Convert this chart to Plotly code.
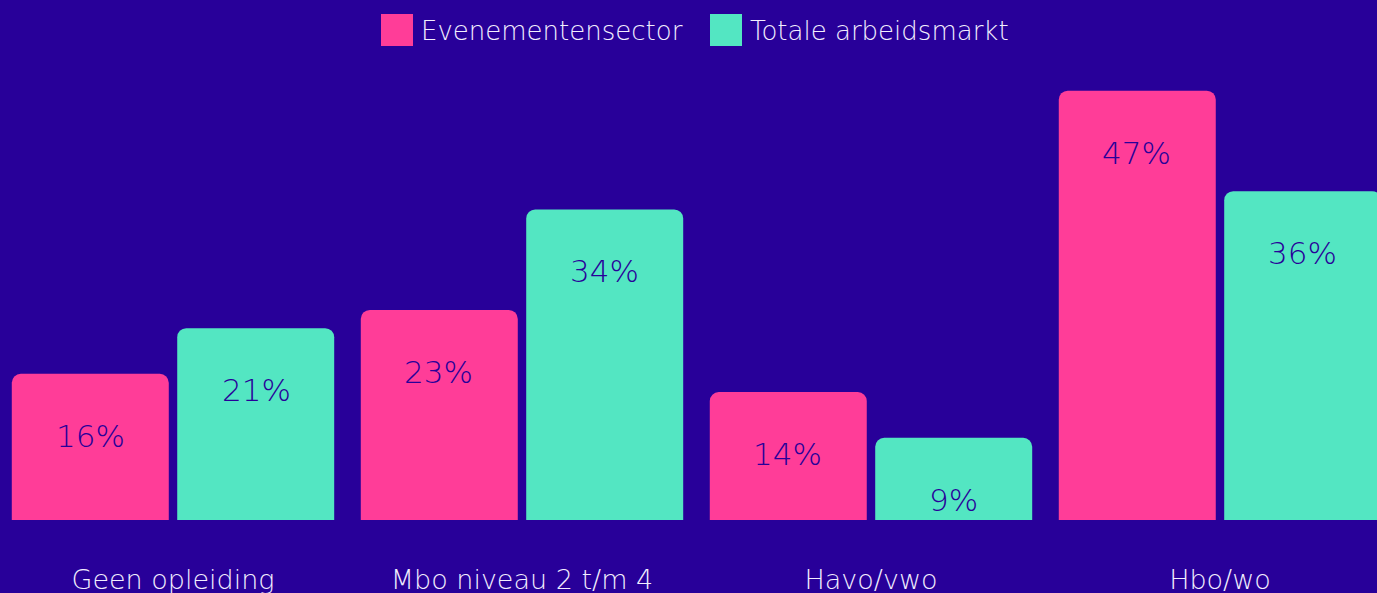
import plotly.graph_objects as go

categories = ["Geen opleiding", "Mbo niveau 2 t/m 4", "Havo/vwo", "Hbo/wo"]
evenementen = [16, 23, 14, 47]
totaal = [21, 34, 9, 36]
series_names = ["Evenementensector", "Totale arbeidsmarkt"]

BG = "#280099"
PINK = "#FF3D98"
TEAL = "#53E6C2"
FONT = "DejaVu Sans"
TXT = "#F2EEFF"

fig = go.Figure()
for name, vals, col in [(series_names[0], evenementen, PINK), (series_names[1], totaal, TEAL)]:
    fig.add_trace(go.Bar(
        x=categories, y=vals, name=name, marker=dict(color=col, line=dict(width=0)),
        showlegend=False, hoverinfo="skip",
    ))

# value labels inside bars, offset below bar top
for i, (name, vals) in enumerate([(series_names[0], evenementen), (series_names[1], totaal)]):
    for c, v in zip(categories, vals):
        fig.add_annotation(
            x=c, y=v, xref="x", yref="y", text=f"{v}%", showarrow=False,
            xshift=(-83 if i == 0 else 83), yshift=-62,
            font=dict(family=FONT, size=31, color=BG, weight=200),
        )

# custom legend (large square swatches)
legend_items = [(series_names[0], PINK, 381), (series_names[1], TEAL, 710)]
W, H = 1377, 593
T, B = 45, 73
ph = H - T - B
for name, col, px in legend_items:
    fig.add_shape(type="rect", xref="paper", yref="paper",
                  x0=px / W, x1=(px + 32) / W,
                  y0=(H - B - 46) / ph, y1=(H - B - 14) / ph,
                  fillcolor=col, line=dict(width=0))
    fig.add_annotation(xref="paper", yref="paper", x=(px + 38) / W, y=(H - B - 31) / ph,
                       text=name, showarrow=False, xanchor="left", yanchor="middle",
                       font=dict(family=FONT, size=26, color=TXT, weight=200))

fig.update_layout(
    width=W, height=H,
    paper_bgcolor=BG, plot_bgcolor=BG,
    margin=dict(l=0, r=0, t=T, b=B, autoexpand=False),
    barmode="group", bargap=0.052, bargroupgap=0.051,
    barcornerradius=9,
    showlegend=False,
    xaxis=dict(range=[-0.4957, 3.4499], showgrid=False, zeroline=False, showline=False,
               ticks="", ticklabelstandoff=41, automargin=False,
               tickfont=dict(family=FONT, size=27, color=TXT, weight=200)),
    yaxis=dict(range=[0, 52], visible=False, showgrid=False, zeroline=False, automargin=False),
)

fig.write_html("out.html", config={"displayModeBar": False},
               post_script="document.body.style.margin='0';document.body.style.background='#280099';")
